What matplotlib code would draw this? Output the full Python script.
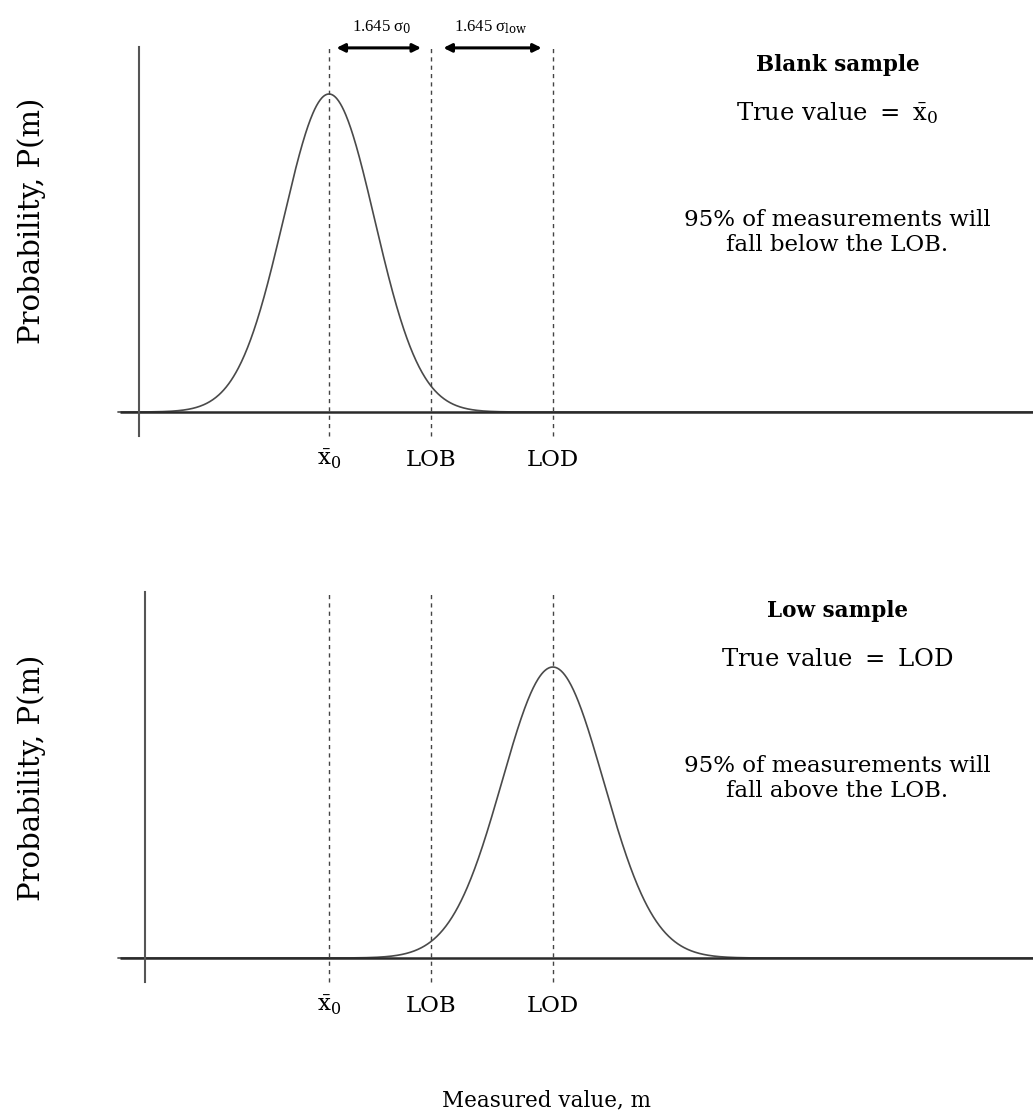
import numpy as np
import matplotlib.pyplot as plt

plt.rcParams['font.family'] = ['DejaVu Serif']
plt.rcParams['mathtext.fontset'] = 'dejavuserif'

# marker positions on the measurement axis
x_blank = 0.0
lob = 1.645
lod = 3.61

# the two measurement distributions (centre, spread, peak height)
blank_mu, blank_sd, blank_peak = 0.0, 0.735, 1.0
low_mu, low_sd, low_peak = 3.61, 0.82, 0.915

marker_pos = [x_blank, lob, lod]
marker_labels = [r'$\bar{\mathrm{x}}_0$', 'LOB', 'LOD']

panel_titles = ['Blank sample', 'Low sample']
true_values = [r'True value $=$ $\bar{\mathrm{x}}_0$', r'True value $=$ LOD']
notes = ['95% of measurements will\nfall below the LOB.',
         '95% of measurements will\nfall above the LOB.']

W, H = 1033, 1120
fig = plt.figure(figsize=(W / 100, H / 100), dpi=100)

px_per_x = 62.0
px_per_y = 318.0
x_origin_px = 329.0
xlim = (-x_origin_px / px_per_x, (W - x_origin_px) / px_per_x)


def make_axes(top_px, bottom_px, base_px):
    ax = fig.add_axes([0, 1 - bottom_px / H, 1, (bottom_px - top_px) / H])
    ax.set_xlim(*xlim)
    ax.set_ylim(-(bottom_px - base_px) / px_per_y, (base_px - top_px) / px_per_y)
    ax.axis('off')
    return ax


def gauss(x, mu, s, a):
    return a * np.exp(-0.5 * ((x - mu) / s) ** 2)


xs = np.linspace(-3.4, xlim[1], 1500)

ax1 = make_axes(0, 560, 412)
ax2 = make_axes(560, 1120, 958)

panels = [
    (ax1, blank_mu, blank_sd, blank_peak, -3.065, 1.148, -0.075, 0.60),
    (ax2, low_mu, low_sd, low_peak, -2.968, 1.151, -0.075, 0.566),
]

for i, (ax, mu, s, a, yaxis_x, top, bot, ylab_y) in enumerate(panels):
    ax.plot(xs, gauss(xs, mu, s, a), color='#4a4a4a', lw=1.2)
    ax.plot([-3.37, xlim[1]], [0, 0], color='#2a2a2a', lw=1.8, solid_capstyle='butt')
    ax.plot([yaxis_x, yaxis_x], [bot, top], color='#555555', lw=1.5)
    for xm, lab in zip(marker_pos, marker_labels):
        ax.plot([xm, xm], [bot, top], color='#444444', lw=1.0, ls=(0, (3, 3)))
        ax.text(xm, -0.15, lab, ha='center', va='center', fontsize=16.5)
    ax.text(8.2, 1.09, panel_titles[i], ha='center', va='center',
            fontsize=15.5, fontweight='bold')
    ax.text(8.2, 0.94, true_values[i], ha='center', va='center', fontsize=17.5)
    ax.text(8.2, 0.565, notes[i], ha='center', va='center', fontsize=16.5,
            linespacing=1.2)
    ax.text(-4.8, ylab_y, 'Probability, P(m)', rotation=90, ha='center',
            va='center', fontsize=21)

# width arrows between the markers
arrow_y = 1.145
ax1.annotate('', xy=(lob - 0.16, arrow_y), xytext=(x_blank + 0.12, arrow_y),
             arrowprops=dict(arrowstyle='<|-|>', color='black', lw=2.2,
                             mutation_scale=12, shrinkA=0, shrinkB=0))
ax1.annotate('', xy=(lod - 0.18, arrow_y), xytext=(lob + 0.2, arrow_y),
             arrowprops=dict(arrowstyle='<|-|>', color='black', lw=2.2,
                             mutation_scale=12, shrinkA=0, shrinkB=0))
ax1.text((x_blank + lob) / 2 + 0.02, 1.21, '1.645 σ$_0$', ha='center',
         va='center', fontsize=12, family='Liberation Serif')
ax1.text((lob + lod) / 2 - 0.02, 1.21, r'1.645 σ$_{\mathrm{low}}$', ha='center',
         va='center', fontsize=12, family='Liberation Serif')

fig.text(546 / W, 1 - 1100 / H, 'Measured value, m', ha='center', va='center',
         fontsize=15.5)

fig.savefig('out.png', dpi=100, facecolor='white')
